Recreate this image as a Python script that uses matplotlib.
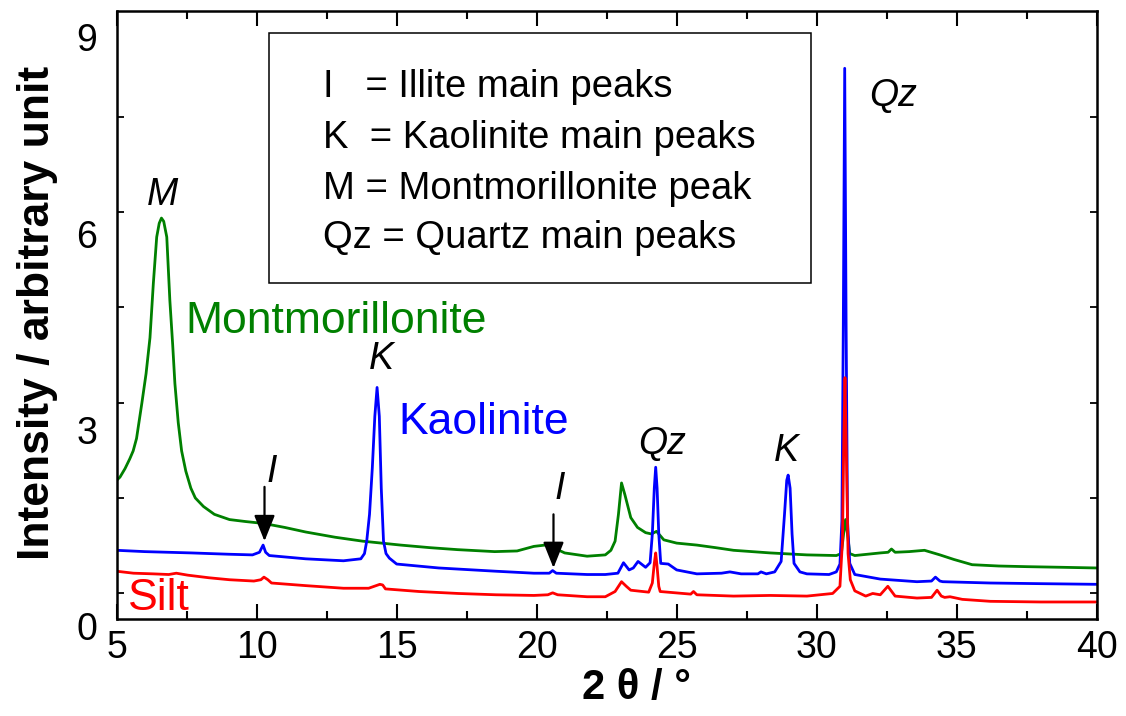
import matplotlib
matplotlib.use("Agg")
import matplotlib.pyplot as plt
import matplotlib.transforms as mtransforms
from matplotlib.patches import Rectangle

plt.rcParams['font.family'] = ['Liberation Sans', 'DejaVu Sans']

# 2theta / intensity
mont_x = [5.0, 5.12, 5.3, 5.47, 5.59, 5.71, 5.9, 6.05, 6.19, 6.31, 6.43, 6.52, 6.6, 6.68,
          6.79, 6.9, 7.0, 7.08, 7.2, 7.32, 7.47, 7.65, 7.81, 8.1, 8.49, 9.03, 9.6, 10.26,
          11.0, 11.75, 12.8, 13.78, 15.14, 16.2, 17.18, 18.5, 19.3, 19.9, 20.3, 20.7, 21.0,
          21.8, 22.45, 22.65, 22.8, 22.92, 23.03, 23.15, 23.36, 23.6, 23.89, 24.1, 24.28,
          24.54, 25.0, 25.72, 26.4, 27.03, 28.34, 29.65, 30.7, 30.88, 30.96, 31.03, 31.1,
          31.18, 31.36, 32.27, 32.55, 32.67, 32.8, 33.3, 33.85, 34.4, 34.9, 35.55, 36.5,
          37.5, 38.8, 40.0]
mont_y = [2.12, 2.17, 2.3, 2.45, 2.57, 2.76, 3.3, 3.75, 4.3, 5.13, 5.84, 6.05, 6.13, 6.08,
          5.84, 4.87, 4.2, 3.6, 3.0, 2.57, 2.26, 2.0, 1.85, 1.72, 1.6, 1.52, 1.49, 1.46,
          1.4, 1.33, 1.25, 1.19, 1.13, 1.09, 1.06, 1.03, 1.04, 1.11, 1.13, 1.07, 1.01,
          0.96, 0.98, 1.05, 1.19, 1.6, 2.08, 1.9, 1.55, 1.4, 1.32, 1.3, 1.34,
          1.21, 1.16, 1.13, 1.09, 1.05, 1.01, 0.98, 0.97, 1.0, 1.3, 1.52, 1.3,
          1.0, 0.97, 1.01, 1.02, 1.07, 1.02, 1.03, 1.05, 0.98, 0.91, 0.83, 0.81,
          0.80, 0.79, 0.78]

kaol_x = [5.0, 6.0, 7.67, 9.0, 9.85, 10.1, 10.23, 10.32, 10.45, 11.75, 13.1, 13.72, 13.85,
          13.93, 14.03, 14.13, 14.22, 14.3, 14.38, 14.45, 14.53, 14.62, 14.74, 15.0, 16.5,
          18.55, 19.9, 20.45, 20.57, 20.7, 21.8, 22.45, 22.9, 23.1, 23.3, 23.45, 23.62,
          23.89, 24.05, 24.13, 24.2, 24.25, 24.3, 24.36, 24.43, 24.7, 25.0, 25.72, 26.6,
          26.9, 27.3, 27.9, 28.01, 28.2, 28.5, 28.73, 28.85, 28.93, 28.98, 29.05, 29.12,
          29.19, 29.4, 29.65, 30.44, 30.7, 30.83, 30.9, 30.95, 31.0, 31.05, 31.1, 31.18,
          31.36, 32.27, 33.58, 34.1, 34.24, 34.4, 34.5, 36.2, 38.0, 40.0]
kaol_y = [1.05, 1.03, 1.01, 0.99, 0.98, 1.02, 1.13, 1.02, 0.97, 0.92, 0.89, 0.92, 1.0,
          1.19, 1.6, 2.31, 3.1, 3.54, 3.1, 2.0, 1.19, 1.0, 0.93, 0.84, 0.78,
          0.73, 0.70, 0.70, 0.74, 0.70, 0.68, 0.68, 0.70, 0.86, 0.75, 0.78, 0.88,
          0.79, 0.86, 1.3, 2.0, 2.32, 2.0, 1.3, 0.85, 0.84, 0.75, 0.69, 0.70,
          0.72, 0.69, 0.69, 0.72, 0.69, 0.72, 0.88, 1.6, 2.12, 2.2, 2.0, 1.3,
          0.85, 0.72, 0.69, 0.68, 0.72, 0.84, 1.5, 4.5, 8.42, 4.5, 1.5, 0.85,
          0.68, 0.61, 0.57, 0.58, 0.64, 0.58, 0.57, 0.55, 0.54, 0.53]

silt_x = [5.0, 5.6, 6.3, 6.86, 7.13, 7.54, 8.3, 9.03, 9.9, 10.15, 10.26, 10.4, 10.53, 11.75,
          13.1, 14.0, 14.4, 14.5, 14.6, 15.8, 17.2, 18.55, 19.9, 20.4, 20.57, 20.75, 21.8,
          22.45, 22.8, 23.03, 23.2, 23.36, 24.0, 24.13, 24.2, 24.25, 24.3, 24.36, 24.41,
          25.5, 25.6, 25.72, 27.03, 28.34, 29.65, 30.57, 30.83, 30.92, 30.97, 31.01, 31.06,
          31.12, 31.2, 31.36, 31.75, 32.0, 32.27, 32.54, 32.8, 33.58, 34.1, 34.3, 34.45,
          34.57, 34.76, 35.2, 36.2, 38.0, 40.0]
silt_y = [0.73, 0.70, 0.69, 0.68, 0.70, 0.67, 0.63, 0.60, 0.58, 0.60, 0.64, 0.60, 0.55, 0.51,
          0.47, 0.47, 0.53, 0.52, 0.46, 0.42, 0.39, 0.37, 0.36, 0.37, 0.40, 0.37, 0.34,
          0.34, 0.42, 0.57, 0.50, 0.44, 0.41, 0.55, 0.85, 1.01, 0.80, 0.50, 0.42,
          0.38, 0.42, 0.37, 0.35, 0.36, 0.35, 0.39, 0.50, 1.2, 2.8, 3.69, 2.5,
          1.0, 0.6, 0.43, 0.35, 0.39, 0.37, 0.50, 0.35, 0.32, 0.33, 0.44, 0.35,
          0.33, 0.34, 0.30, 0.27, 0.26, 0.26]

legend_lines = ["I   = Illite main peaks", "K  = Kaolinite main peaks",
                "M = Montmorillonite peak", "Qz = Quartz main peaks"]
legend_y = [8.13, 7.35, 6.58, 5.82]

peak_labels = ["M", "K", "I", "I", "Qz", "K", "Qz"]
peak_x = [6.65, 14.47, 10.55, 20.82, 24.48, 28.93, 32.72]
peak_y = [6.48, 3.98, 2.24, 1.98, 2.67, 2.57, 7.99]

arrow_x = [10.28, 20.6]
arrow_top = [2.02, 1.6]
arrow_tip = [1.19, 0.78]

green = '#008000'
blue = '#0000ff'
red = '#ff0000'

fig = plt.figure(figsize=(11.26, 7.16), dpi=100)
ax = fig.add_axes([0.1036, 0.1355, 0.8704, 0.8495])

ax.plot(mont_x, mont_y, color=green, lw=2.0)
ax.plot(kaol_x, kaol_y, color=blue, lw=2.0)
ax.plot(silt_x, silt_y, color=red, lw=2.0)

ax.set_xlim(5, 40)
ax.set_ylim(0, 9.3)
ax.set_xticks([5, 10, 15, 20, 25, 30, 35, 40])
ax.set_xticks([7.5, 12.5, 17.5, 22.5, 27.5, 32.5, 37.5], minor=True)
ax.set_yticks([0, 3, 6, 9])
ax.set_yticks([0.40, 1.85, 3.30, 4.77, 6.22, 7.68], minor=True)

ax.tick_params(axis='x', which='major', direction='in', length=11, width=1.5,
               top=True, labelsize=27, pad=8)
ax.tick_params(axis='x', which='minor', direction='in', length=6, width=1.5, top=True)
ax.tick_params(axis='y', which='major', direction='in', length=0, right=True,
               labelsize=27, pad=14)
ax.tick_params(axis='y', which='minor', direction='in', length=5, width=1.3, right=True)

shift = mtransforms.ScaledTranslation(0, -0.07, fig.dpi_scale_trans)
for lab in ax.get_yticklabels():
    lab.set_transform(lab.get_transform() + shift)

for sp in ax.spines.values():
    sp.set_linewidth(1.8)

# key box
ax.add_patch(Rectangle((10.45, 5.13), 19.35, 3.83, fill=False, ec='black', lw=1.1))
for txt, yy in zip(legend_lines, legend_y):
    ax.text(12.37, yy, txt, fontsize=27.5, va='center', ha='left')

ax.text(7.44, 4.37, "Montmorillonite", color=green, fontsize=32, ha='left', va='baseline')
ax.text(15.05, 2.83, "Kaolinite", color=blue, fontsize=32, ha='left', va='baseline')
ax.text(5.41, 0.13, "Silt", color=red, fontsize=32, ha='left', va='baseline')

for lab, xx, yy in zip(peak_labels, peak_x, peak_y):
    ax.text(xx, yy, lab, fontsize=27, style='italic', ha='center', va='center')

for xx, y0, y1 in zip(arrow_x, arrow_top, arrow_tip):
    ax.annotate('', xy=(xx, y1), xytext=(xx, y0),
                arrowprops=dict(arrowstyle='-|>,head_length=0.8,head_width=0.32',
                                color='black', lw=1.6, mutation_scale=20,
                                shrinkA=0, shrinkB=0))

fig.text(38 / 1126, 1 - 313 / 716, "Intensity / arbitrary unit", rotation=90,
         fontsize=32, fontweight='bold', ha='center', va='center')
fig.text(636 / 1126, 1 - 688 / 716, "2 θ / °", fontsize=30, fontweight='bold',
         ha='center', va='center')

fig.savefig("out.png", dpi=100)
